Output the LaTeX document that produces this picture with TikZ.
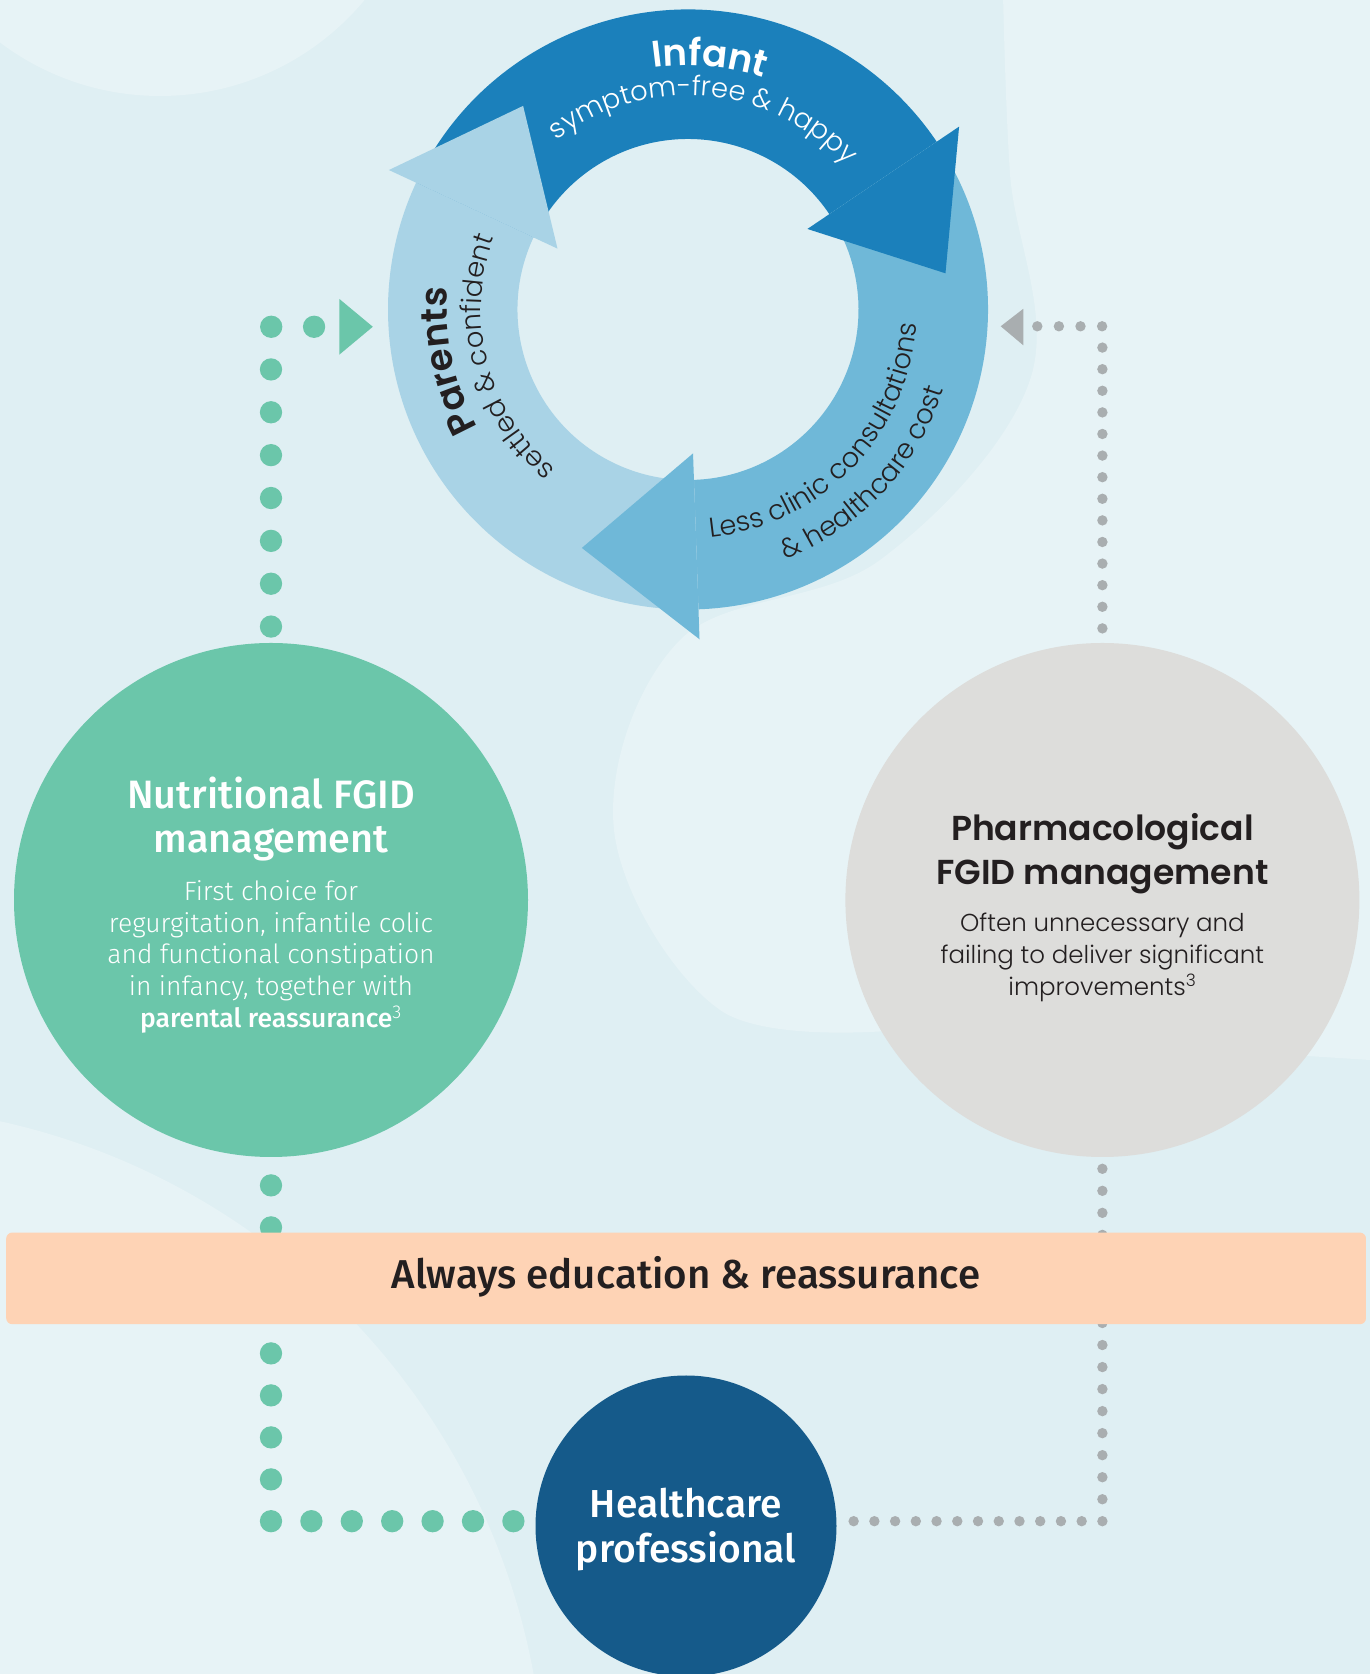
\documentclass[tikz,border=0pt]{standalone}
\usepackage{fontspec}
\usetikzlibrary{decorations.text}
\newfontfamily\pop{Poppins}
\newfontfamily\popl{Poppins Light}
\newfontfamily\popsb{Poppins SemiBold}
\newfontfamily\fira{Fira Sans}
\newfontfamily\firal{Fira Sans Light}
\newfontfamily\firam{Fira Sans Medium}
\definecolor{bgbase}{HTML}{DFEFF3}
\definecolor{bglight}{HTML}{E7F3F6}
\definecolor{infantblue}{HTML}{1B80BB}
\definecolor{lessblue}{HTML}{6FB8D8}
\definecolor{parentblue}{HTML}{A9D3E6}
\definecolor{greenc}{HTML}{6BC6AA}
\definecolor{grayc}{HTML}{DDDDDB}
\definecolor{navyc}{HTML}{155A8A}
\definecolor{bandc}{HTML}{FED3B5}
\definecolor{dotgray}{HTML}{A9AEB0}
\definecolor{ink}{HTML}{231F20}
\newcommand\fBig{\fontsize{37}{40}\selectfont\popsb}
\newcommand\fSm{\fontsize{27.3}{32}\selectfont\popl}
\newcommand\fNutT{\fontsize{39.6}{44}\selectfont\firam}
\newcommand\fNutB{\fontsize{26.5}{31}\selectfont\firal}
\newcommand\fPhT{\fontsize{34.6}{44}\selectfont\popsb}
\newcommand\fPhB{\fontsize{24.5}{31}\selectfont\popl}
\newcommand\fBand{\fontsize{40.3}{44}\selectfont\firam}
\newcommand\fHcp{\fontsize{39}{44}\selectfont\firam}
\begin{document}
\begin{tikzpicture}[x=1pt,y=1pt,
  txt/.style={inner sep=0pt, anchor=base},
  gdot/.style={draw=greenc, line width=22.3pt, line cap=round},
  rdot/.style={draw=dotgray, line width=10.4pt, line cap=round},
  disc/.style={circle, inner sep=0pt}]
\useasboundingbox (0,0) rectangle (1370,1674);
% background
\begin{scope}
\clip (0,0) rectangle (1370,1674);
\fill[bgbase] (0,0) rectangle (1370,1674);
\fill[bglight] (160,1844) circle[radius=266];
\fill[bglight] plot[smooth, tension=0.6] coordinates {(1003,1680) (1010,1500) (1030,1294) (880,1114) (680,1034) (614,844) (720,664) (900,644)} -- (1370,614) -- (1370,1680) -- cycle;
\fill[bglight] (-150,-126) circle[radius=695];
\end{scope}

% main discs
\node[disc, fill=greenc, minimum size=514pt] (green) at (271,774) {};
\node[disc, fill=grayc, minimum size=514pt] (gray) at (1102.4,774) {};
\node[disc, fill=navyc, minimum size=301pt] (navy) at (686,148) {};

% connector coordinates
\coordinate (gend) at (320,1347.2);
\coordinate (ghead) at (339.3,1347.2);
\coordinate (grend) at (1030,1347.7);
\coordinate (grhead) at (1000.7,1347.7);
\coordinate (gcorner) at (271,152.8);
\coordinate (grcorner) at (1102.4,152.8);

% green dotted connectors
\draw[gdot, dash pattern=on 0pt off 42.86pt, dash phase=26.66pt] (green.north) |- (gend);
\fill[greenc] (ghead) ++(0,27.9) -- ++(33.5,-27.9) -- ++(-33.5,-27.9) -- cycle;
\draw[gdot, dash pattern=on 0pt off 42pt, dash phase=13.8pt] (green.south) -- (gcorner);
\draw[gdot, dash pattern=on 0pt off 40.4pt] (gcorner) -- (gcorner -| navy.west);

% gray dotted connectors
\draw[rdot, dash pattern=on 0pt off 21.6pt, dash phase=7.2pt] (gray.north) |- (grend);
\fill[dotgray] (grhead) -- ++(22.6,17.5) -- ++(0,-36.5) -- cycle;
\draw[rdot, dash pattern=on 0pt off 22.03pt, dash phase=10.43pt] (gray.south) -- (grcorner);
\draw[rdot, dash pattern=on 0pt off 20.73pt] (grcorner) -- (grcorner -| navy.east);

% band
\node[rectangle, rounded corners=6pt, fill=bandc, minimum width=1359.75pt, minimum height=91.6pt, inner sep=0pt] (band) at (686.1,395.6) {};
\node[txt, text=ink, font=\fBand] (bandtext) at (686,385.2) {Always education \& reassurance};

% cycle
\coordinate (C) at (688,1364.5);
\begin{scope}[shift={(C)}]
% bodies
\fill[infantblue] (155:300) arc[start angle=155, end angle=34, radius=300] -- (34:170.5) arc[start angle=34, end angle=155, radius=170.5] -- cycle;
\fill[lessblue] (34:300) arc[start angle=34, end angle=-88, radius=300] -- (-88:170.5) arc[start angle=-88, end angle=34, radius=170.5] -- cycle;
\fill[parentblue] (272:300) arc[start angle=272, end angle=155, radius=300] -- (155:170.5) arc[start angle=155, end angle=272, radius=170.5] -- cycle;
% heads
\fill[infantblue] (34:144) -- (34:327) -- (8:260) -- cycle;
\fill[lessblue] (-88:144) -- (-88:330) -- (-114:261) -- cycle;
\fill[parentblue] (155:144) -- (155:330) -- (129:262) -- cycle;
% ring texts
\path[decorate, decoration={text along path, text align=center, text color=white, text={|\fBig|Infant}}] (165:244) arc[start angle=165, end angle=5, radius=244];
\path[decorate, decoration={text along path, text align=center, text color=white, text={|\fSm|symptom-free {\&} happy}}] (170:214) arc[start angle=170, end angle=0, radius=214];
\path[decorate, decoration={text along path, text align=center, text color=ink, text={|\fBig|Parents}}] (272:241) arc[start angle=272, end angle=112, radius=241];
\path[decorate, decoration={text along path, text align=center, text color=ink, text={|\fSm|settled {\&} confident}}] (275:207) arc[start angle=275, end angle=115, radius=207];
\path[decorate, decoration={text along path, text align=center, text color=ink, text={|\fSm|Less clinic consultations}}] (-129:229) arc[start angle=-129, end angle=41, radius=229];
\path[decorate, decoration={text along path, text align=center, text color=ink, text={|\fSm|{\&} healthcare cost}}] (-123:268) arc[start angle=-123, end angle=37, radius=268];
\end{scope}

% green disc text
\node[txt, text=white, font=\fNutT] (nut1) at (271,865.4) {Nutritional FGID};
\node[txt, text=white, font=\fNutT] (nut2) at (271,821.4) {management};
\node[txt, text=white, font=\fNutB] (nut3) at (271,773.6) {First choice for};
\node[txt, text=white, font=\fNutB] (nut4) at (271,741.8) {regurgitation, infantile colic};
\node[txt, text=white, font=\fNutB] (nut5) at (271,710.4) {and functional constipation};
\node[txt, text=white, font=\fNutB] (nut6) at (271,678.7) {in infancy, together with};
\node[txt, text=white, font=\fNutB] (nut7) at (271,646.5) {{\firam parental reassurance}\textsuperscript{3}};

% gray disc text
\node[txt, text=ink, font=\fPhT] (ph1) at (1102.4,833) {Pharmacological};
\node[txt, text=ink, font=\fPhT] (ph2) at (1102.4,789) {FGID management};
\node[txt, text=ink, font=\fPhB] (ph3) at (1102.4,742) {Often unnecessary and};
\node[txt, text=ink, font=\fPhB] (ph4) at (1102.4,710.4) {failing to deliver significant};
\node[txt, text=ink, font=\fPhB] (ph5) at (1102.4,678.7) {improvements\textsuperscript{3}};

% navy disc text
\node[txt, text=white, font=\fHcp] (hcp1) at (686,156.1) {Healthcare};
\node[txt, text=white, font=\fHcp] (hcp2) at (686,111) {professional};
\end{tikzpicture}
\end{document}
